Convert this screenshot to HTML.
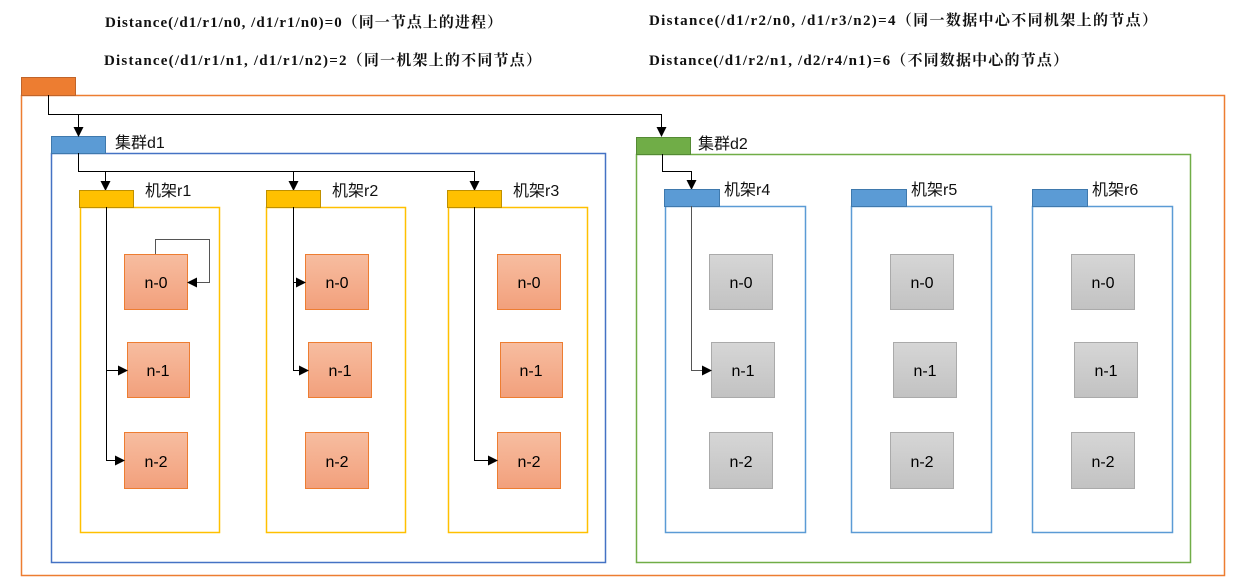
<!DOCTYPE html>
<html><head><meta charset="utf-8"><style>
html,body{margin:0;padding:0;background:#fff;width:1237px;height:580px;overflow:hidden}
.t{font-family:"Liberation Serif","Noto Serif CJK SC",serif;font-size:15px;font-weight:bold;fill:#111}
.l{font-family:"Liberation Sans","Noto Sans CJK SC",sans-serif;font-size:16px;fill:#111}
.n{font-family:"Liberation Sans",sans-serif;font-size:16px;fill:#000;text-anchor:middle}
</style></head><body>
<svg width="1237" height="580" xmlns="http://www.w3.org/2000/svg">
<defs>
<marker id="a" markerWidth="10" markerHeight="10" refX="9" refY="5" orient="auto" markerUnits="userSpaceOnUse"><path d="M0,0 L10,5 L0,10 z" fill="#000"/></marker>
<linearGradient id="og" x1="0" y1="0" x2="0" y2="1"><stop offset="0" stop-color="#f7bda0"/><stop offset="1" stop-color="#f2a07c"/></linearGradient>
<linearGradient id="gg" x1="0" y1="0" x2="0" y2="1"><stop offset="0" stop-color="#d6d6d6"/><stop offset="1" stop-color="#c2c2c2"/></linearGradient>
</defs>
<text class="t" x="105" y="27" textLength="397">Distance(/d1/r1/n0, /d1/r1/n0)=0（同一节点上的进程）</text>
<text class="t" x="104" y="65" textLength="437">Distance(/d1/r1/n1, /d1/r1/n2)=2（同一机架上的不同节点）</text>
<text class="t" x="649" y="25" textLength="508">Distance(/d1/r2/n0, /d1/r3/n2)=4（同一数据中心不同机架上的节点）</text>
<text class="t" x="649" y="65" textLength="419">Distance(/d1/r2/n1, /d2/r4/n1)=6（不同数据中心的节点）</text>

<rect x="21.5" y="95.5" width="1203" height="480" fill="none" stroke="#ed7d31" stroke-width="1.5"/>
<rect x="21.5" y="77.5" width="54" height="18" fill="#ed7d31" stroke="#c0642a"/>

<rect x="51.5" y="153.5" width="554" height="409" fill="none" stroke="#4472c4" stroke-width="1.5"/>
<rect x="51.5" y="136.5" width="54" height="17" fill="#5b9bd5" stroke="#3f79ad"/>
<text class="l" x="115" y="148">集群d1</text>
<rect x="636.5" y="154.5" width="554" height="408" fill="none" stroke="#70ad47" stroke-width="1.5"/>
<rect x="636.5" y="137.5" width="54" height="17" fill="#70ad47" stroke="#548a34"/>
<text class="l" x="698" y="149">集群d2</text>

<g fill="none" stroke="#000" stroke-width="1">
<path d="M48.5,95 V114.5 H661.5 V136" marker-end="url(#a)"/>
<path d="M78.5,114.5 V136" marker-end="url(#a)"/>
<path d="M78.5,153 V171.5 H474.5 V190" marker-end="url(#a)"/>
<path d="M105.5,171.5 V190" marker-end="url(#a)"/>
<path d="M293.5,171.5 V190" marker-end="url(#a)"/>
<path d="M662.5,154 V171.5 H691.5 V189" marker-end="url(#a)"/>
</g>

<g stroke="#ffc000" stroke-width="1.5" fill="none">
<rect x="80.5" y="207.5" width="139" height="325"/>
<rect x="266.5" y="207.5" width="139" height="325"/>
<rect x="448.5" y="207.5" width="139" height="325"/>
</g>
<g fill="#ffc000" stroke="#bf9000">
<rect x="79.5" y="190.5" width="54" height="17"/>
<rect x="266.5" y="190.5" width="54" height="17"/>
<rect x="447.5" y="190.5" width="54" height="17"/>
</g>
<text class="l" x="145" y="196">机架r1</text>
<text class="l" x="332" y="196">机架r2</text>
<text class="l" x="513" y="196">机架r3</text>

<g stroke="#5b9bd5" stroke-width="1.5" fill="none">
<rect x="665.5" y="206.5" width="140" height="326"/>
<rect x="851.5" y="206.5" width="140" height="326"/>
<rect x="1032.5" y="206.5" width="140" height="326"/>
</g>
<g fill="#5b9bd5" stroke="#3f79ad">
<rect x="664.5" y="189.5" width="55" height="17"/>
<rect x="851.5" y="189.5" width="55" height="17"/>
<rect x="1032.5" y="189.5" width="55" height="17"/>
</g>
<text class="l" x="724" y="195">机架r4</text>
<text class="l" x="911" y="195">机架r5</text>
<text class="l" x="1092" y="195">机架r6</text>

<g fill="url(#og)" stroke="#ed7d31">
<rect x="124.5" y="254.5" width="63" height="55"/><rect x="127.5" y="342.5" width="62" height="55"/><rect x="124.5" y="432.5" width="63" height="56"/>
<rect x="305.5" y="254.5" width="63" height="55"/><rect x="308.5" y="342.5" width="63" height="55"/><rect x="305.5" y="432.5" width="63" height="56"/>
<rect x="497.5" y="254.5" width="63" height="55"/><rect x="500.5" y="342.5" width="62" height="55"/><rect x="497.5" y="432.5" width="63" height="56"/>
</g>
<g fill="url(#gg)" stroke="#aaa">
<rect x="709.5" y="254.5" width="63" height="55"/><rect x="711.5" y="342.5" width="63" height="55"/><rect x="709.5" y="432.5" width="63" height="56"/>
<rect x="890.5" y="254.5" width="63" height="55"/><rect x="893.5" y="342.5" width="63" height="55"/><rect x="890.5" y="432.5" width="63" height="56"/>
<rect x="1071.5" y="254.5" width="63" height="55"/><rect x="1074.5" y="342.5" width="63" height="55"/><rect x="1071.5" y="432.5" width="63" height="56"/>
</g>
<g>
<text class="n" x="156" y="288">n-0</text><text class="n" x="158" y="376">n-1</text><text class="n" x="156" y="467">n-2</text>
<text class="n" x="337" y="288">n-0</text><text class="n" x="340" y="376">n-1</text><text class="n" x="337" y="467">n-2</text>
<text class="n" x="529" y="288">n-0</text><text class="n" x="531" y="376">n-1</text><text class="n" x="529" y="467">n-2</text>
<text class="n" x="741" y="288">n-0</text><text class="n" x="743" y="376">n-1</text><text class="n" x="741" y="467">n-2</text>
<text class="n" x="922" y="288">n-0</text><text class="n" x="925" y="376">n-1</text><text class="n" x="922" y="467">n-2</text>
<text class="n" x="1103" y="288">n-0</text><text class="n" x="1106" y="376">n-1</text><text class="n" x="1103" y="467">n-2</text>
</g>

<g fill="none" stroke="#000" stroke-width="1">
<path d="M106.5,207 V460.5 H124" marker-end="url(#a)"/>
<path d="M106.5,370.5 H127" marker-end="url(#a)"/>
<path d="M155.5,254 V239.5 H209.5 V282.5 H188" stroke="#555" marker-end="url(#a)"/>
<path d="M293.5,207 V370.5 H308" marker-end="url(#a)"/>
<path d="M293.5,282.5 H305" marker-end="url(#a)"/>
<path d="M474.5,207 V460.5 H497" marker-end="url(#a)"/>
<path d="M691.5,206 V370.5 H711" stroke="#555" marker-end="url(#a)"/>
</g>
</svg>
</body></html>
